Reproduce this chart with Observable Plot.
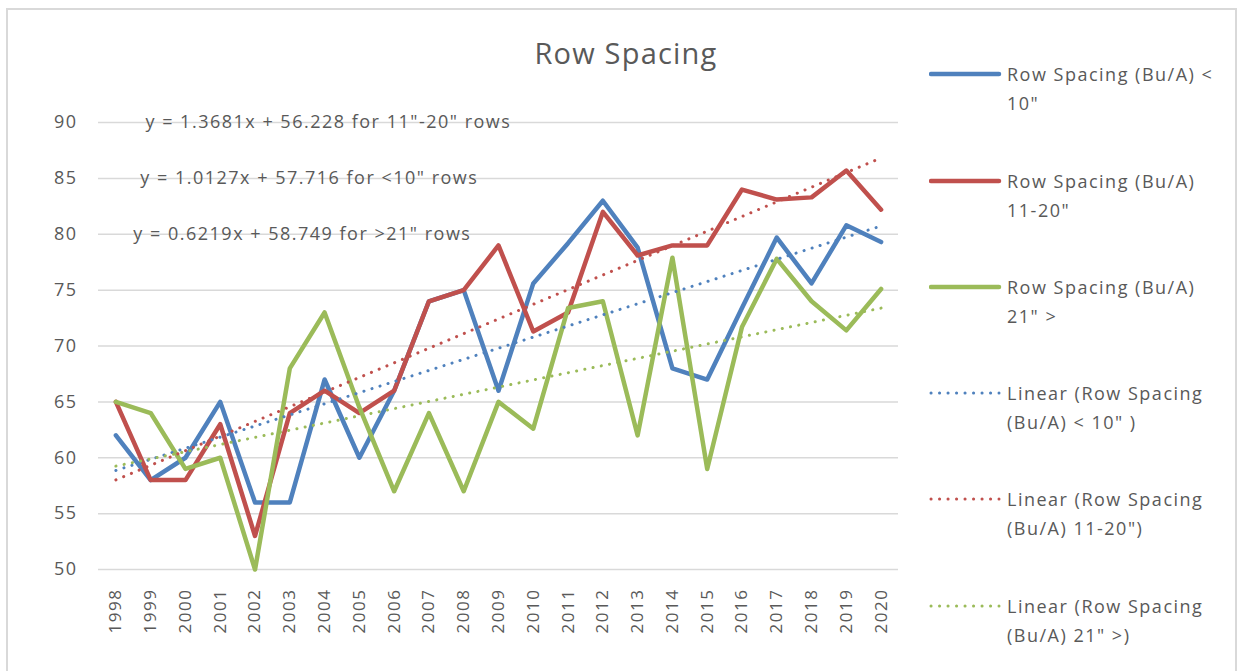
<!DOCTYPE html>
<html>
<head>
<meta charset="utf-8">
<script src="https://cdn.jsdelivr.net/npm/d3@7"></script>
<script src="https://cdn.jsdelivr.net/npm/@observablehq/plot@0.6"></script>
<style>
  html, body { margin: 0; padding: 0; background: #fff; }
  body { width: 1241px; height: 671px; position: relative; overflow: hidden; font-family: "Open Sans", sans-serif; color: #595959; }
  #frame { position: absolute; left: 6px; top: 8px; width: 1231px; height: 680px; border: 2px solid #d9d9d9; box-sizing: border-box; }
  #chart { position: absolute; left: 0; top: 0; }
  #title { position: absolute; left: 0; width: 1252px; top: 33px; text-align: center; font-size: 29px; letter-spacing: 1.2px; color: #595959; }
  #legend { position: absolute; left: 929px; top: 0; }
  .item { position: absolute; left: 0; width: 310px; }
  .item svg { position: absolute; left: 0; top: 0; }
  .item span { position: absolute; left: 78px; top: -14px; font-size: 18px; letter-spacing: 1.5px; line-height: 29px; white-space: nowrap; color: #595959; }
</style>
</head>
<body>
<div id="frame"></div>
<div id="chart"></div>
<div id="title">Row Spacing</div>
<div id="legend"></div>
<script>
const years = [1998,1999,2000,2001,2002,2003,2004,2005,2006,2007,2008,2009,2010,2011,2012,2013,2014,2015,2016,2017,2018,2019,2020];
const under10 = [62,58,60,65,56,56,67,60,66,74,75,66,75.6,79.2,83,78.8,68,67,73.4,79.7,75.6,80.8,79.3];
const from11to20 = [65,58,58,63,53,64,66,64,66,74,75,79,71.3,73,82,78.1,79,79,84,83.1,83.3,85.7,82.2];
const over21 = [65,64,59,60,50,68,73,64.5,57,64,57,65,62.6,73.4,74,62,77.9,59,71.7,77.8,74,71.4,75.1];
const seriesNames = ["Row Spacing (Bu/A) < 10\"", "Row Spacing (Bu/A) 11-20\"", "Row Spacing (Bu/A) 21\" >"];
const trendNames = ["Linear (Row Spacing (Bu/A) < 10\" )", "Linear (Row Spacing (Bu/A) 11-20\")", "Linear (Row Spacing (Bu/A) 21\" >)"];
const colors = ["#4f81bd", "#c0504d", "#9bbb59"];
const yTicks = [50,55,60,65,70,75,80,85,90];
const equations = [
  "y = 1.3681x + 56.228 for 11\"-20\" rows",
  "y = 1.0127x + 57.716 for <10\" rows",
  "y = 0.6219x + 58.749 for >21\" rows"
];
const eqX = [1998.85, 1998.7, 1998.5];
const eqY = [90, 85, 80];

const allSeries = [under10, from11to20, over21];
const rows = [];
allSeries.forEach((vals, i) => vals.forEach((v, j) => rows.push({year: years[j], value: v, series: seriesNames[i]})));
const eqRows = equations.map((t, i) => ({text: t, x: eqX[i], y: eqY[i]}));

const plot = Plot.plot({
  width: 1241,
  height: 671,
  marginLeft: 98,
  marginRight: 343,
  marginTop: 122,
  marginBottom: 102,
  style: {fontFamily: "Open Sans, sans-serif", color: "#595959", background: "transparent", letterSpacing: "1.5px"},
  x: {type: "linear", domain: [1997.5, 2020.5], label: null},
  y: {domain: [50, 90], label: null},
  color: {domain: seriesNames, range: colors},
  marks: [
    Plot.gridY(yTicks, {stroke: "#d9d9d9", strokeOpacity: 1, strokeWidth: 1.5}),
    Plot.axisY({ticks: yTicks, tickSize: 0, tickPadding: 21, fontSize: 18, label: null}),
    Plot.axisX({ticks: years, tickFormat: d => String(d), tickRotate: -90, tickSize: 0, tickPadding: 19, fontSize: 17, label: null}),
    Plot.line(rows, {x: "year", y: "value", z: "series", stroke: "series", strokeWidth: 4.5, strokeLinejoin: "round", strokeLinecap: "round"}),
    ...allSeries.map((vals, i) => Plot.linearRegressionY(rows.filter(r => r.series === seriesNames[i]), {
      x: "year", y: "value", stroke: colors[i], ci: 0, strokeWidth: 3, strokeDasharray: "0.1 8.3", strokeLinecap: "round"
    })),
    Plot.text(eqRows, {x: "x", y: "y", text: "text", textAnchor: "start", fontSize: 18, fill: "#595959"})
  ]
});
document.getElementById("chart").appendChild(plot);

// legend
const legend = document.getElementById("legend");
const legendEntries = [
  ...seriesNames.map((n, i) => ({name: n, color: colors[i], dotted: false})),
  ...trendNames.map((n, i) => ({name: n, color: colors[i], dotted: true}))
];
const legendTops = [74, 181, 287, 393, 499, 606];
const wrapped = [
  ["Row Spacing (Bu/A) <", "10\""],
  ["Row Spacing (Bu/A)", "11-20\""],
  ["Row Spacing (Bu/A)", "21\" >"],
  ["Linear (Row Spacing", "(Bu/A) < 10\" )"],
  ["Linear (Row Spacing", "(Bu/A) 11-20\")"],
  ["Linear (Row Spacing", "(Bu/A) 21\" >)"]
];
legendEntries.forEach((e, i) => {
  const div = document.createElement("div");
  div.className = "item";
  div.style.top = legendTops[i] + "px";
  const ns = "http://www.w3.org/2000/svg";
  const svg = document.createElementNS(ns, "svg");
  svg.setAttribute("width", "76"); svg.setAttribute("height", "10");
  svg.style.top = "-5px";
  const ln = document.createElementNS(ns, "line");
  ln.setAttribute("x1", 2); ln.setAttribute("x2", 70);
  ln.setAttribute("y1", 5); ln.setAttribute("y2", 5);
  ln.setAttribute("stroke", e.color);
  ln.setAttribute("stroke-linecap", "round");
  if (e.dotted) { ln.setAttribute("stroke-width", 3); ln.setAttribute("stroke-dasharray", "0.1 8.4"); }
  else { ln.setAttribute("stroke-width", 4.5); }
  svg.appendChild(ln);
  div.appendChild(svg);
  const sp = document.createElement("span");
  sp.innerHTML = wrapped[i].map(s => s.replace(/</g, "&lt;").replace(/>/g, "&gt;")).join("<br>");
  div.appendChild(sp);
  legend.appendChild(div);
});
</script>
</body>
</html>
